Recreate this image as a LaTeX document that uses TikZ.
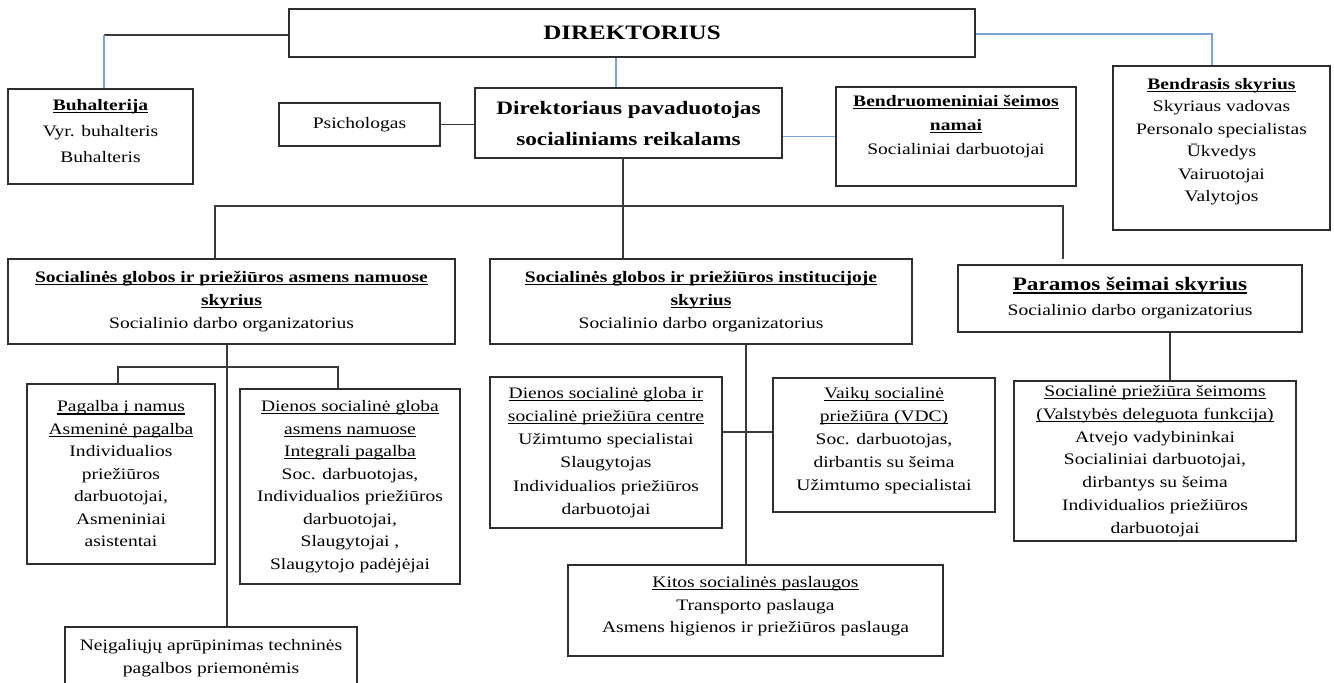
\documentclass[tikz,border=0pt]{standalone}
\usepackage{fontspec}
\setmainfont{Liberation Serif}[FakeStretch=1.22]
\usepackage{tikz}
\definecolor{linkblue}{HTML}{7DA3D6}
\definecolor{linkgray}{HTML}{3A3A3A}
\definecolor{boxgray}{HTML}{2E2E2E}
\newcommand{\undl}[1]{\setbox0=\hbox{#1}\rlap{\rule[-2.6pt]{\wd0}{1.1pt}}\box0}
\newcommand{\hdl}[1]{{\bfseries\undl{#1}}}

\begin{document}
\begin{tikzpicture}
                \tikzset{x=1pt, y=-1pt}
                \tikzstyle{box}=[rectangle, draw=boxgray, line width=1.3pt, align=center, inner sep=0pt, font=\fontsize{16}{22.5}\selectfont]
                \tikzstyle{line}=[draw=linkgray, line width=1.2pt]
                \tikzstyle{blueline}=[draw=linkblue, line width=1.2pt]

                \useasboundingbox (0,0) rectangle (1334,683);

                % top level
                \draw (632, 33)     node[box, minimum width=686pt, minimum height=48pt, font=\fontsize{20.5}{24}\selectfont\bfseries] (dir) {DIREKTORIUS};
                \draw (100.5, 136.5) node[box, minimum width=185pt, minimum height=95pt, font=\fontsize{16}{26}\selectfont, text depth=12pt] (buh) {\hdl{Buhalterija}\\ Vyr. buhalteris\\ Buhalteris};
                \draw (359.5, 124.5) node[box, minimum width=161pt, minimum height=43pt] (psi) {Psichologas};
                \draw (628.5, 123)  node[box, minimum width=307pt, minimum height=70pt, font=\fontsize{19}{31}\selectfont\bfseries] (pav) {Direktoriaus pavaduotojas\\ socialiniams reikalams};
                \draw (956, 136.5)  node[box, minimum width=240pt, minimum height=99pt, font=\fontsize{16}{24}\selectfont, text depth=24pt] (bdn) {\hdl{Bendruomeniniai šeimos}\\ \hdl{namai}\\ Socialiniai darbuotojai};
                \draw (1221.5, 148) node[box, minimum width=217pt, minimum height=164pt, text depth=16pt] (bnd) {\hdl{Bendrasis skyrius}\\ Skyriaus vadovas\\ Personalo specialistas\\ Ūkvedys\\ Vairuotojai\\ Valytojos};

                % skyriai
                \draw (231.5, 301.5) node[box, minimum width=447pt, minimum height=85pt, font=\fontsize{16}{23}\selectfont] (sgn) {\hdl{Socialinės globos ir priežiūros asmens namuose}\\ \hdl{skyrius}\\ Socialinio darbo organizatorius};
                \draw (701, 301.5)  node[box, minimum width=422pt, minimum height=85pt, font=\fontsize{16}{23}\selectfont] (sgi) {\hdl{Socialinės globos ir priežiūros institucijoje}\\ \hdl{skyrius}\\ Socialinio darbo organizatorius};
                \draw (1130, 298.5) node[box, minimum width=344pt, minimum height=67pt, font=\fontsize{16}{25}\selectfont] (par) {{\fontsize{19}{25}\selectfont\bfseries\undl{Paramos šeimai skyrius}}\\ Socialinio darbo organizatorius};

                % paslaugos
                \draw (121, 474)    node[box, minimum width=188pt, minimum height=180pt] (pag) {\undl{Pagalba į namus}\\ \undl{Asmeninė pagalba}\\ Individualios\\ priežiūros\\ darbuotojai,\\ Asmeniniai\\ asistentai};
                \draw (350, 486.5)  node[box, minimum width=220pt, minimum height=195pt] (dsg) {\undl{Dienos socialinė globa}\\ \undl{asmens namuose}\\ \undl{Integrali pagalba}\\ Soc. darbuotojas,\\ Individualios priežiūros\\ darbuotojai,\\ Slaugytojai ,\\ Slaugytojo padėjėjai};
                \draw (211, 658)    node[box, minimum width=292pt, minimum height=62pt] (neg) {Neįgaliųjų aprūpinimas techninės\\ pagalbos priemonėmis};
                \draw (606, 452.5)  node[box, minimum width=232pt, minimum height=151pt, font=\fontsize{16}{23.2}\selectfont] (dsc) {\undl{Dienos socialinė globa ir}\\ \undl{socialinė priežiūra centre}\\ Užimtumo specialistai\\ Slaugytojas\\ Individualios priežiūros\\ darbuotojai};
                \draw (884, 445)    node[box, minimum width=222pt, minimum height=134pt, font=\fontsize{16}{23}\selectfont, text depth=12pt] (vai) {\undl{Vaikų socialinė}\\ \undl{priežiūra (VDC)}\\ Soc. darbuotojas,\\ dirbantis su šeima\\ Užimtumo specialistai};
                \draw (755.5, 610.5) node[box, minimum width=375pt, minimum height=91pt, text depth=12pt] (kit) {\undl{Kitos socialinės paslaugos}\\ Transporto paslauga\\ Asmens higienos ir priežiūros paslauga};
                \draw (1155, 461)   node[box, minimum width=282pt, minimum height=160pt, font=\fontsize{16}{22.8}\selectfont] (sps) {\undl{Socialinė priežiūra šeimoms}\\ \undl{(Valstybės deleguota funkcija)}\\ Atvejo vadybininkai\\ Socialiniai darbuotojai,\\ dirbantys su šeima\\ Individualios priežiūros\\ darbuotojai};

                % jungtys
                \coordinate (lk) at (104, 35);
                \coordinate (mk) at (616, 57);
                \coordinate (rk) at (1212, 34);
                \draw[line]     (dir.west |- lk) -- (lk);
                \draw[blueline] (lk) -- (buh.north -| lk);
                \draw[blueline] (dir.south -| mk) -- (pav.north -| mk);
                \draw[blueline] (dir.east |- rk) -- (rk) -- (bnd.north -| rk);
                \draw[line]     (psi.east) -- (psi.east -| pav.west);
                \draw[blueline] (pav.east |- bdn.west) -- (bdn.west);

                \coordinate (bl) at (215, 206);
                \coordinate (bm) at (623, 206);
                \coordinate (br) at (1063, 206);
                \coordinate (be) at (1063, 259);
                \draw[line] (pav.south -| bm) -- (sgi.north -| bm);
                \draw[line] (sgn.north -| bl) -- (bl) -- (br) -- (be);

                \coordinate (al) at (118, 367);
                \coordinate (am) at (227, 367);
                \coordinate (ar) at (338, 367);
                \draw[line] (sgn.south -| am) -- (neg.north -| am);
                \draw[line] (pag.north -| al) -- (al) -- (ar) -- (dsg.north -| ar);

                \coordinate (bv) at (746, 432);
                \draw[line] (sgi.south -| bv) -- (kit.north -| bv);
                \draw[line] (dsc.east |- bv) -- (vai.west |- bv);

                \coordinate (cv) at (1170, 332);
                \draw[line] (par.south -| cv) -- (sps.north -| cv);
            \end{tikzpicture}
\end{document}
